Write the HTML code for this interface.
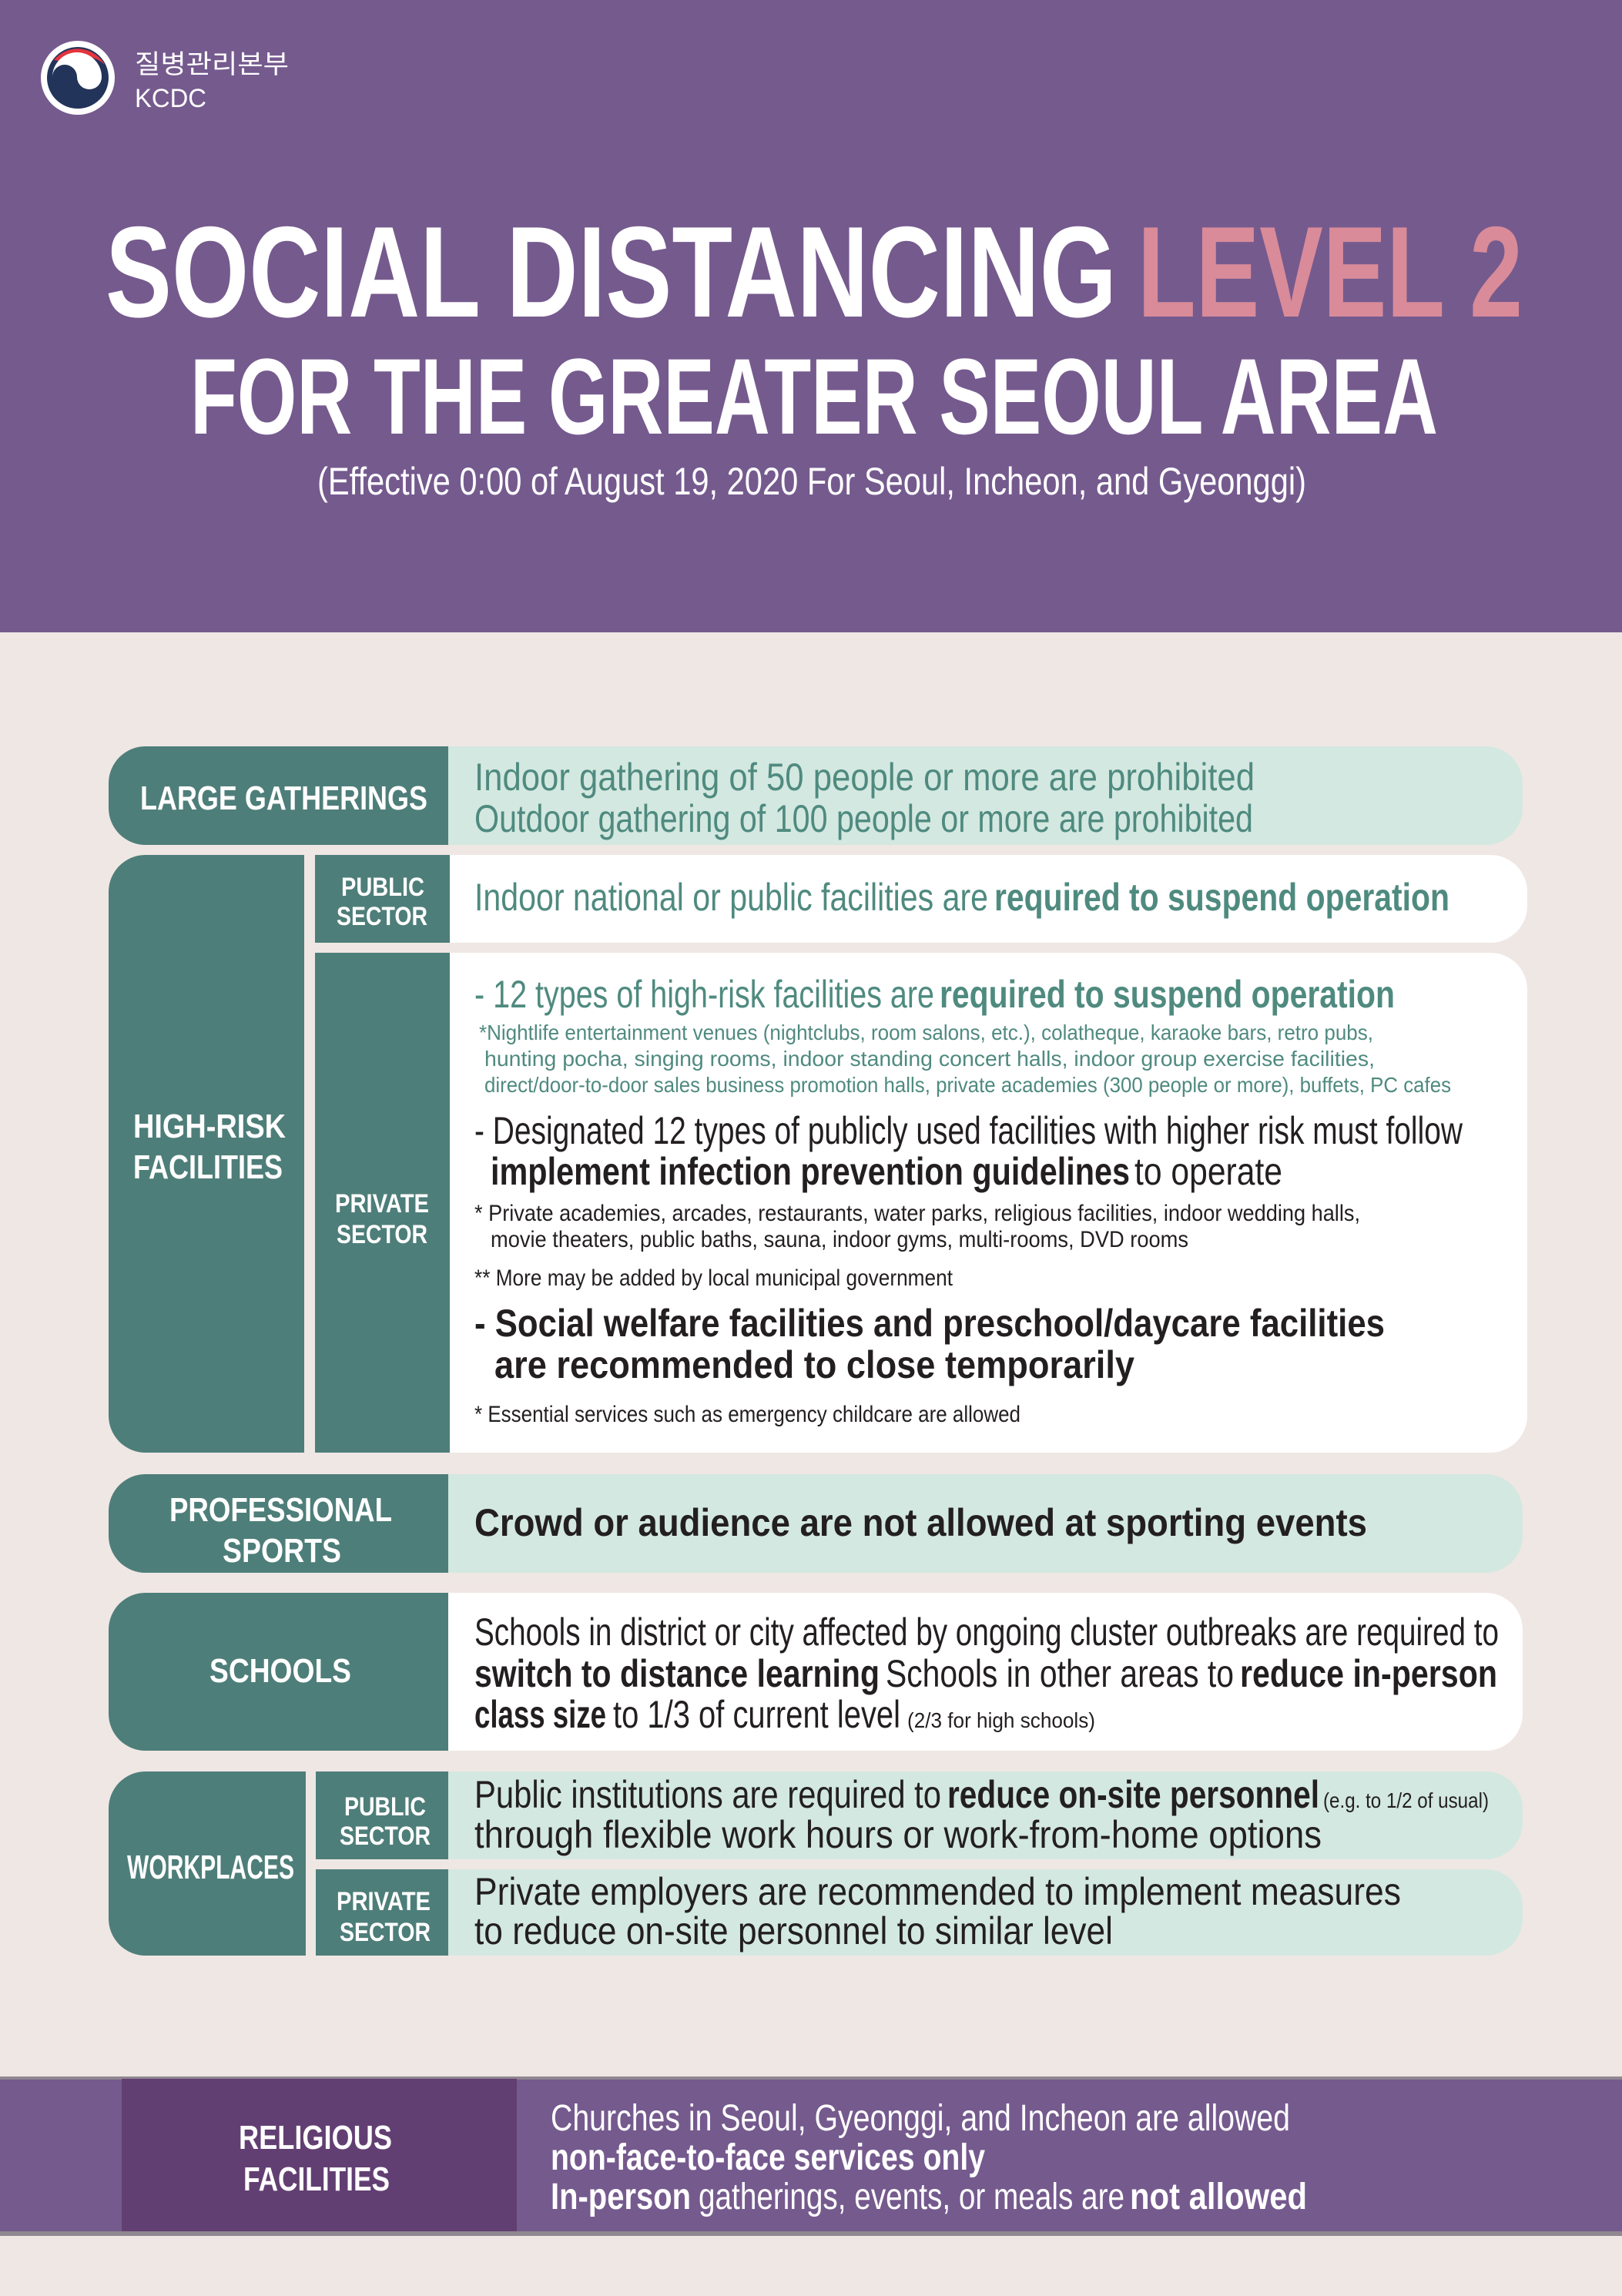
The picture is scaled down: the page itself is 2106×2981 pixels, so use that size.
<!DOCTYPE html>
<html><head><meta charset="utf-8"><style>
html,body{margin:0;padding:0;background:#efe7e4;}
svg{display:block;}
text{font-family:"Liberation Sans","Noto Sans CJK KR",sans-serif;}
</style></head><body>
<svg width="2106" height="2981" viewBox="0 0 2106 2981" xmlns="http://www.w3.org/2000/svg">
<rect x="0" y="0" width="2106" height="2981" fill="#efe7e4"/>
<rect x="0" y="0" width="2106" height="821" fill="#755a8e"/>

<!-- logo -->
<circle cx="101" cy="101" r="48" fill="#ffffff"/>
<circle cx="101" cy="101" r="40" fill="#23345a"/>
<path d="M70 78 A40 40 0 0 1 136 84 A44 44 0 0 0 82 80 Z" fill="#e3343e"/>
<path d="M68 100 A16 16 0 0 1 100 100 A16 16 0 0 0 132 100 A31 31 0 0 0 68 100 Z" fill="#ffffff"/>
<text x="175" y="95" font-size="34" fill="#fff" textLength="200" lengthAdjust="spacingAndGlyphs">질병관리본부</text>
<text x="175" y="139" font-size="34" fill="#fff" textLength="93" lengthAdjust="spacingAndGlyphs">KCDC</text>

<!-- title -->
<text x="137" y="411" font-size="168" font-weight="bold" fill="#fff" textLength="1313" lengthAdjust="spacingAndGlyphs">SOCIAL DISTANCING</text>
<text x="1477" y="411" font-size="168" font-weight="bold" fill="#d98b99" textLength="500" lengthAdjust="spacingAndGlyphs">LEVEL 2</text>
<text x="247" y="563" font-size="140" font-weight="bold" fill="#fff" textLength="1620" lengthAdjust="spacingAndGlyphs">FOR THE GREATER SEOUL AREA</text>
<text x="412" y="642" font-size="50" fill="#fff" textLength="1284" lengthAdjust="spacingAndGlyphs">(Effective 0:00 of August 19, 2020 For Seoul, Incheon, and Gyeonggi)</text>

<!-- shapes -->
<g fill="#4e7e79">
<path d="M189 969 H582 V1097 H189 A48 48 0 0 1 141 1049 V1017 A48 48 0 0 1 189 969Z"/>
<path d="M189 1110 H395 V1886 H189 A48 48 0 0 1 141 1838 V1158 A48 48 0 0 1 189 1110Z"/>
<rect x="409" y="1110" width="175" height="114"/>
<rect x="409" y="1237" width="175" height="649"/>
<path d="M189 1914 H582 V2042 H189 A48 48 0 0 1 141 1994 V1962 A48 48 0 0 1 189 1914Z"/>
<path d="M189 2068 H582 V2273 H189 A48 48 0 0 1 141 2225 V2116 A48 48 0 0 1 189 2068Z"/>
<path d="M189 2300 H397 V2539 H189 A48 48 0 0 1 141 2491 V2348 A48 48 0 0 1 189 2300Z"/>
<rect x="410" y="2300" width="172" height="114"/>
<rect x="410" y="2427" width="172" height="112"/>
</g>
<g fill="#d3e8e0">
<path d="M582 969 H1929 A48 48 0 0 1 1977 1017 V1049 A48 48 0 0 1 1929 1097 H582Z"/>
<path d="M582 1914 H1929 A48 48 0 0 1 1977 1962 V1994 A48 48 0 0 1 1929 2042 H582Z"/>
<path d="M582 2300 H1929 A48 48 0 0 1 1977 2348 V2366 A48 48 0 0 1 1929 2414 H582Z"/>
<path d="M582 2427 H1929 A48 48 0 0 1 1977 2475 V2491 A48 48 0 0 1 1929 2539 H582Z"/>
</g>
<g fill="#ffffff">
<path d="M584 1110 H1935 A48 48 0 0 1 1983 1158 V1176 A48 48 0 0 1 1935 1224 H584Z"/>
<path d="M584 1237 H1935 A48 48 0 0 1 1983 1285 V1838 A48 48 0 0 1 1935 1886 H584Z"/>
<path d="M582 2068 H1929 A48 48 0 0 1 1977 2116 V2225 A48 48 0 0 1 1929 2273 H582Z"/>
</g>

<!-- labels -->
<g fill="#fff" font-weight="bold">
<text x="182" y="1051" font-size="44" textLength="373" lengthAdjust="spacingAndGlyphs">LARGE GATHERINGS</text>
<text x="443" y="1163" font-size="34" textLength="108" lengthAdjust="spacingAndGlyphs">PUBLIC</text>
<text x="437" y="1201" font-size="34" textLength="118" lengthAdjust="spacingAndGlyphs">SECTOR</text>
<text x="173" y="1477" font-size="44" textLength="198" lengthAdjust="spacingAndGlyphs">HIGH-RISK</text>
<text x="173" y="1530" font-size="44" textLength="194" lengthAdjust="spacingAndGlyphs">FACILITIES</text>
<text x="435" y="1574" font-size="34" textLength="122" lengthAdjust="spacingAndGlyphs">PRIVATE</text>
<text x="437" y="1614" font-size="34" textLength="118" lengthAdjust="spacingAndGlyphs">SECTOR</text>
<text x="220" y="1975" font-size="44" textLength="289" lengthAdjust="spacingAndGlyphs">PROFESSIONAL</text>
<text x="289" y="2028" font-size="44" textLength="154" lengthAdjust="spacingAndGlyphs">SPORTS</text>
<text x="272" y="2184" font-size="44" textLength="184" lengthAdjust="spacingAndGlyphs">SCHOOLS</text>
<text x="165" y="2439" font-size="44" textLength="217" lengthAdjust="spacingAndGlyphs">WORKPLACES</text>
<text x="447" y="2357" font-size="34" textLength="106" lengthAdjust="spacingAndGlyphs">PUBLIC</text>
<text x="441" y="2395" font-size="34" textLength="118" lengthAdjust="spacingAndGlyphs">SECTOR</text>
<text x="437" y="2480" font-size="34" textLength="122" lengthAdjust="spacingAndGlyphs">PRIVATE</text>
<text x="441" y="2520" font-size="34" textLength="118" lengthAdjust="spacingAndGlyphs">SECTOR</text>
</g>

<!-- content teal -->
<g fill="#4f8a7f">
<text x="616" y="1026" font-size="50" textLength="1013" lengthAdjust="spacingAndGlyphs">Indoor gathering of 50 people or more are prohibited</text>
<text x="616" y="1080" font-size="50" textLength="1011" lengthAdjust="spacingAndGlyphs">Outdoor gathering of 100 people or more are prohibited</text>
<text x="616" y="1182" font-size="50" textLength="667" lengthAdjust="spacingAndGlyphs">Indoor national or public facilities are</text>
<text x="1291" y="1182" font-size="50" font-weight="bold" textLength="591" lengthAdjust="spacingAndGlyphs">required to suspend operation</text>
<text x="616" y="1308" font-size="50" textLength="597" lengthAdjust="spacingAndGlyphs">- 12 types of high-risk facilities are</text>
<text x="1220" y="1308" font-size="50" font-weight="bold" textLength="591" lengthAdjust="spacingAndGlyphs">required to suspend operation</text>
<text x="622" y="1350" font-size="28" textLength="1161" lengthAdjust="spacingAndGlyphs">*Nightlife entertainment venues (nightclubs, room salons, etc.), colatheque,  karaoke bars, retro pubs,</text>
<text x="629" y="1384" font-size="28" textLength="1156" lengthAdjust="spacingAndGlyphs">hunting pocha, singing rooms, indoor standing concert halls,  indoor group exercise facilities,</text>
<text x="629" y="1418" font-size="28" textLength="1255" lengthAdjust="spacingAndGlyphs">direct/door-to-door sales business promotion halls, private academies (300 people or more), buffets, PC cafes</text>
</g>

<!-- content dark -->
<g fill="#231f20">
<text x="616" y="1485" font-size="50" textLength="1283" lengthAdjust="spacingAndGlyphs">- Designated 12 types of publicly used facilities with higher risk must follow</text>
<text x="637" y="1538" font-size="50" font-weight="bold" textLength="830" lengthAdjust="spacingAndGlyphs">implement infection prevention guidelines</text>
<text x="1473" y="1538" font-size="50" textLength="192" lengthAdjust="spacingAndGlyphs">to operate</text>
<text x="616" y="1585" font-size="30" textLength="1150" lengthAdjust="spacingAndGlyphs">* Private academies, arcades, restaurants, water parks, religious facilities, indoor wedding halls,</text>
<text x="637" y="1619" font-size="30" textLength="906" lengthAdjust="spacingAndGlyphs">movie theaters, public baths, sauna, indoor gyms, multi-rooms, DVD rooms</text>
<text x="616" y="1669" font-size="30" textLength="621" lengthAdjust="spacingAndGlyphs">** More may be added by local municipal government</text>
<text x="616" y="1735" font-size="50" font-weight="bold" textLength="1182" lengthAdjust="spacingAndGlyphs">- Social welfare facilities and preschool/daycare facilities</text>
<text x="642" y="1789" font-size="50" font-weight="bold" textLength="831" lengthAdjust="spacingAndGlyphs">are  recommended to close temporarily</text>
<text x="616" y="1846" font-size="30" textLength="709" lengthAdjust="spacingAndGlyphs">* Essential services such as emergency childcare are allowed</text>

<text x="616" y="1994" font-size="50" font-weight="bold" textLength="1159" lengthAdjust="spacingAndGlyphs">Crowd or audience are not allowed at sporting events</text>

<text x="616" y="2136" font-size="50" textLength="1330" lengthAdjust="spacingAndGlyphs">Schools in district or city affected by ongoing cluster outbreaks are required to</text>
<text x="616" y="2190" font-size="50" font-weight="bold" textLength="526" lengthAdjust="spacingAndGlyphs">switch to distance learning</text>
<text x="1150" y="2190" font-size="50" textLength="452" lengthAdjust="spacingAndGlyphs">Schools in other areas to</text>
<text x="1610" y="2190" font-size="50" font-weight="bold" textLength="334" lengthAdjust="spacingAndGlyphs">reduce in-person</text>
<text x="616" y="2243" font-size="50" font-weight="bold" textLength="171" lengthAdjust="spacingAndGlyphs">class size</text>
<text x="796" y="2243" font-size="50" textLength="373" lengthAdjust="spacingAndGlyphs">to 1/3 of current level</text>
<text x="1178" y="2243" font-size="28" textLength="244" lengthAdjust="spacingAndGlyphs">(2/3 for high schools)</text>

<text x="616" y="2347" font-size="50" textLength="606" lengthAdjust="spacingAndGlyphs">Public institutions are required to</text>
<text x="1230" y="2347" font-size="50" font-weight="bold" textLength="483" lengthAdjust="spacingAndGlyphs">reduce on-site personnel</text>
<text x="1718" y="2347" font-size="28" textLength="215" lengthAdjust="spacingAndGlyphs">(e.g. to 1/2 of usual)</text>
<text x="616" y="2399" font-size="50" textLength="1100" lengthAdjust="spacingAndGlyphs">through flexible work hours or work-from-home options</text>
<text x="616" y="2473" font-size="50" textLength="1203" lengthAdjust="spacingAndGlyphs">Private employers are recommended to implement measures</text>
<text x="616" y="2524" font-size="50" textLength="829" lengthAdjust="spacingAndGlyphs">to reduce on-site personnel to similar level</text>
</g>

<!-- religious band -->
<rect x="0" y="2699" width="2106" height="198" fill="#755a8e"/>
<rect x="0" y="2696" width="2106" height="4" fill="#8f8890"/>
<rect x="0" y="2897" width="2106" height="6" fill="#8f8890"/>
<rect x="158" y="2699" width="513" height="198" fill="#623f72"/>
<g fill="#fff">
<text x="310" y="2790" font-size="44" font-weight="bold" textLength="199" lengthAdjust="spacingAndGlyphs">RELIGIOUS</text>
<text x="316" y="2844" font-size="44" font-weight="bold" textLength="190" lengthAdjust="spacingAndGlyphs">FACILITIES</text>
<text x="715" y="2766" font-size="48" textLength="960" lengthAdjust="spacingAndGlyphs">Churches in Seoul, Gyeonggi, and Incheon are allowed</text>
<text x="715" y="2817" font-size="48" font-weight="bold" textLength="564" lengthAdjust="spacingAndGlyphs">non-face-to-face services only</text>
<text x="715" y="2868" font-size="48" font-weight="bold" textLength="182" lengthAdjust="spacingAndGlyphs">In-person</text>
<text x="907" y="2868" font-size="48" textLength="553" lengthAdjust="spacingAndGlyphs">gatherings, events, or meals are</text>
<text x="1467" y="2868" font-size="48" font-weight="bold" textLength="230" lengthAdjust="spacingAndGlyphs">not allowed</text>
</g>
</svg>
</body></html>
